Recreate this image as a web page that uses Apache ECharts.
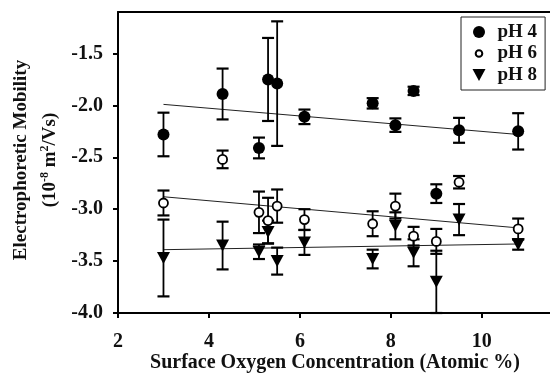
<!DOCTYPE html>
<html><head><meta charset="utf-8">
<script src="https://cdn.jsdelivr.net/npm/echarts@6/dist/echarts.min.js"></script>
<style>html,body{margin:0;padding:0;background:#fff}#c{width:550px;height:374px}</style>
</head><body><div id="c"></div>
<script>
// ---- data ----
const x4 = [3.0, 4.3, 5.1, 5.3, 5.5, 6.1, 7.6, 8.1, 8.5, 9.0, 9.5, 10.8];
const y4 = [-2.28, -1.89, -2.41, -1.75, -1.79, -2.11, -1.98, -2.19, -1.86, -2.85, -2.24, -2.25];
const e4 = [0.21, 0.245, 0.1, 0.4, 0.6, 0.07, 0.05, 0.065, 0.04, 0.09, 0.12, 0.175];

const x6 = [3.0, 4.3, 5.1, 5.3, 5.5, 6.1, 7.6, 8.1, 8.5, 9.0, 9.5, 10.8];
const y6 = [-2.94, -2.52, -3.03, -3.11, -2.97, -3.10, -3.14, -2.97, -3.26, -3.31, -2.74, -3.19];
const e6 = [0.12, 0.085, 0.2, 0.22, 0.16, 0.1, 0.12, 0.12, 0.09, 0.12, 0.06, 0.1];

const x8 = [3.0, 4.3, 5.1, 5.3, 5.5, 6.1, 7.6, 8.1, 8.5, 9.0, 9.5, 10.8];
const y8 = [-3.47, -3.35, -3.41, -3.22, -3.50, -3.32, -3.48, -3.16, -3.42, -3.70, -3.10, -3.34];
const e8 = [0.37, 0.23, 0.07, 0.11, 0.13, 0.12, 0.09, 0.13, 0.13, 0.3, 0.15, 0.05];

// regression line end points
const fitX  = [3.0, 10.8];
const fit4Y = [-1.99, -2.28];
const fit6Y = [-2.88, -3.18];
const fit8Y = [-3.39, -3.335];

const seriesNames = ['pH 4', 'pH 6', 'pH 8'];
const xTicks = [2, 4, 6, 8, 10];
const yTicks = [-4.0, -3.5, -3.0, -2.5, -2.0, -1.5];
const xTitle = 'Surface Oxygen Concentration (Atomic %)';
const yTitle1 = 'Electrophoretic Mobility';

// ---- build ----
const FONT = '"Liberation Serif", "Times New Roman", serif';
const TRI = 'path://M0,0L12,0L6,11Z';
const SMALL_RING = 'path://M0,0M16,16M8,3.6A4.4,4.4,0,1,1,7.99,3.6Z';
const pts = (xs, ys) => xs.map((x, i) => [x, ys[i]]);
const errs = (xs, ys, es) => xs.map((x, i) => [x, ys[i] - es[i], ys[i] + es[i]]);

function renderErr(params, api) {
  const x = api.value(0), lo = api.value(1), hi = api.value(2);
  const a = api.coord([x, hi]), b = api.coord([x, lo]);
  const hw = 6;
  const st = { stroke: '#000', lineWidth: 1.8 };
  const cap = { stroke: '#000', lineWidth: 2.2 };
  return { type: 'group', children: [
    { type: 'line', shape: { x1: a[0], y1: a[1], x2: b[0], y2: b[1] }, style: st },
    { type: 'line', shape: { x1: a[0] - hw, y1: a[1], x2: a[0] + hw, y2: a[1] }, style: cap },
    { type: 'line', shape: { x1: b[0] - hw, y1: b[1], x2: b[0] + hw, y2: b[1] }, style: cap }
  ]};
}
function errSeries(name, data) {
  return { name: name, type: 'custom', renderItem: renderErr, data: data, z: 3,
    encode: { x: 0, y: [1, 2] }, silent: true, clip: false };
}
function fitSeries(name, ys) {
  return { name: name, type: 'line', data: pts(fitX, ys), showSymbol: false, symbol: 'none',
    lineStyle: { color: '#222', width: 1 }, z: 2, silent: true };
}

const chart = echarts.init(document.getElementById('c'), null, { renderer: 'canvas' });
chart.setOption({
  animation: false,
  backgroundColor: '#fff',
  grid: { left: 118, right: 0, top: 12, bottom: 61 },
  textStyle: { fontFamily: FONT },
  xAxis: [{
    type: 'value', min: 2, max: 11.5, interval: 2,
    axisLine: { show: true, lineStyle: { color: '#000', width: 2 } },
    axisTick: { show: true, inside: false, length: 5, lineStyle: { color: '#000', width: 2 },
      customValues: xTicks },
    axisLabel: { margin: 19, fontFamily: FONT, fontWeight: 'bold', fontSize: 20, color: '#111',
      customValues: xTicks, formatter: v => String(v) },
    splitLine: { show: false }
  }, {
    type: 'value', position: 'top', min: 2, max: 11.5,
    axisLine: { show: true, onZero: false, lineStyle: { color: '#000', width: 2 } },
    axisTick: { show: false }, axisLabel: { show: false }, splitLine: { show: false }
  }],
  yAxis: {
    type: 'value', min: -4, max: -1.1, interval: 0.5,
    axisLine: { show: true, onZero: false, lineStyle: { color: '#000', width: 2 } },
    axisTick: { show: true, length: 5, lineStyle: { color: '#000', width: 2 }, customValues: yTicks },
    axisLabel: { margin: 15, fontFamily: FONT, fontWeight: 'bold', fontSize: 20, color: '#111',
      customValues: yTicks, formatter: v => v.toFixed(1) },
    splitLine: { show: false }
  },
  legend: {
    data: [
      { name: seriesNames[0], icon: 'circle' },
      { name: seriesNames[1], icon: SMALL_RING },
      { name: seriesNames[2], icon: TRI }
    ],
    orient: 'vertical', left: 461, top: 17,
    borderColor: '#222', borderWidth: 1, padding: [5, 8, 5, 11],
    itemWidth: 13, itemHeight: 12, itemGap: 1.5,
    textStyle: { fontFamily: FONT, fontWeight: 'bold', fontSize: 19, color: '#111', lineHeight: 20, padding: [0, 0, 0, 7] },
    selectedMode: false
  },
  graphic: [
    { type: 'text', x: 21, y: 160, rotation: Math.PI / 2,
      style: { text: yTitle1, x: 0, y: 0, align: 'center', verticalAlign: 'middle',
        font: 'bold 19px ' + FONT, fill: '#111' } },
    { type: 'text', x: 50, y: 160, rotation: Math.PI / 2,
      style: { text: '(10{sup|-8} m{sup|2}/Vs)', x: 0, y: 0, align: 'center', verticalAlign: 'middle',
        font: 'bold 19px ' + FONT, fill: '#111',
        rich: { sup: { fontSize: 12, fontWeight: 'bold', fontFamily: FONT, verticalAlign: 'top', fill: '#111', lineHeight: 22 } } } },
    { type: 'text', x: 335, y: 363,
      style: { text: xTitle, x: 0, y: 0, align: 'center', verticalAlign: 'middle',
        font: 'bold 20px ' + FONT, fill: '#111' } }
  ],
  series: [
    fitSeries('fit4', fit4Y), fitSeries('fit6', fit6Y), fitSeries('fit8', fit8Y),
    errSeries('err4', errs(x4, y4, e4)), errSeries('err6', errs(x6, y6, e6)), errSeries('err8', errs(x8, y8, e8)),
    { name: seriesNames[0], type: 'scatter', data: pts(x4, y4), symbol: 'circle', symbolSize: 12, z: 5,
      itemStyle: { color: '#000', opacity: 1 } },
    { name: seriesNames[1], type: 'scatter', data: pts(x6, y6), symbol: 'circle', symbolSize: 9, z: 5,
      itemStyle: { color: '#fff', borderColor: '#000', borderWidth: 1.8, opacity: 1 } },
    { name: seriesNames[2], type: 'scatter', data: pts(x8, y8), symbol: TRI, symbolSize: [13, 12], z: 5,
      itemStyle: { color: '#000', opacity: 1 } }
  ]
});
</script></body></html>
